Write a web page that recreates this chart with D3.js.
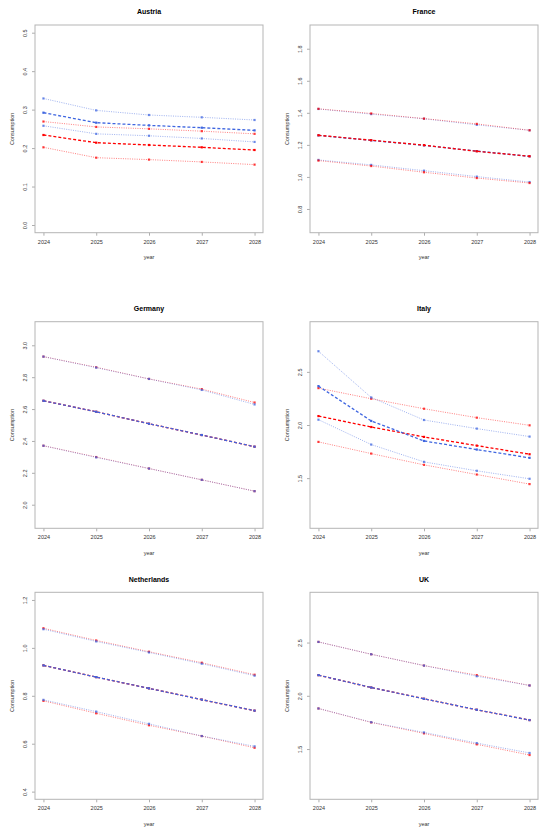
<!DOCTYPE html>
<html>
<head>
<meta charset="utf-8">
<script src="https://cdn.jsdelivr.net/npm/d3@7"></script>
<style>
  html, body { margin: 0; padding: 0; background: #fff; }
  svg { display: block; font-family: "Liberation Sans", Arial, Helvetica, sans-serif; }
</style>
</head>
<body>
<svg id="chart" width="550" height="835"></svg>
<script>
// ---------------- data ----------------
const years = [2024, 2025, 2026, 2027, 2028];
const countries = ["Austria", "France", "Germany", "Italy", "Netherlands", "UK"];

// y-axis limits and tick labels per country
const yLimits = [[0, 0.5], [0.7, 1.9], [1.9, 3.1], [1.1, 2.9], [0.4, 1.2], [1.1, 2.9]];
const yTickValues = [
  [0.0, 0.1, 0.2, 0.3, 0.4, 0.5],
  [0.8, 1.0, 1.2, 1.4, 1.6, 1.8],
  [2.0, 2.2, 2.4, 2.6, 2.8, 3.0],
  [1.5, 2.0, 2.5],
  [0.4, 0.6, 0.8, 1.0, 1.2],
  [1.5, 2.0, 2.5]
];

// red series: central (dashed) and bounds (dotted), one row per country
const redMid = [
  [0.234, 0.214, 0.208, 0.202, 0.195],
  [1.260, 1.229, 1.198, 1.160, 1.129],
  [2.652, 2.583, 2.508, 2.437, 2.364],
  [2.084, 1.981, 1.888, 1.806, 1.725],
  [0.927, 0.878, 0.831, 0.784, 0.738],
  [2.194, 2.078, 1.972, 1.869, 1.772]
];
const redLow = [
  [0.202, 0.175, 0.170, 0.164, 0.157],
  [1.102, 1.068, 1.029, 0.993, 0.962],
  [2.370, 2.299, 2.227, 2.156, 2.085],
  [1.841, 1.731, 1.625, 1.534, 1.444],
  [0.779, 0.727, 0.677, 0.632, 0.583],
  [1.881, 1.750, 1.647, 1.544, 1.444]
];
const redHigh = [
  [0.269, 0.255, 0.250, 0.244, 0.237],
  [1.425, 1.396, 1.364, 1.331, 1.291],
  [2.929, 2.862, 2.789, 2.725, 2.641],
  [2.347, 2.247, 2.153, 2.069, 1.997],
  [1.082, 1.031, 0.984, 0.938, 0.888],
  [2.506, 2.390, 2.284, 2.194, 2.097]
];

// blue series
const blueMid = [
  [0.292, 0.266, 0.259, 0.253, 0.246],
  [1.259, 1.228, 1.197, 1.161, 1.128],
  [2.652, 2.583, 2.508, 2.437, 2.364],
  [2.366, 2.038, 1.850, 1.769, 1.691],
  [0.927, 0.878, 0.831, 0.784, 0.738],
  [2.194, 2.078, 1.972, 1.869, 1.772]
];
const blueLow = [
  [0.258, 0.237, 0.232, 0.225, 0.216],
  [1.106, 1.075, 1.039, 1.002, 0.968],
  [2.370, 2.297, 2.227, 2.156, 2.085],
  [2.050, 1.816, 1.653, 1.569, 1.494],
  [0.783, 0.734, 0.683, 0.632, 0.589],
  [1.881, 1.752, 1.656, 1.556, 1.463]
];
const blueHigh = [
  [0.329, 0.298, 0.286, 0.280, 0.273],
  [1.424, 1.392, 1.363, 1.325, 1.291],
  [2.929, 2.860, 2.789, 2.720, 2.629],
  [2.694, 2.259, 2.047, 1.966, 1.891],
  [1.078, 1.027, 0.981, 0.934, 0.884],
  [2.506, 2.390, 2.284, 2.184, 2.097]
];

// which colour group is drawn last (on top) in each panel
const redOnTop = [true, true, false, false, false, false];

// ---------------- layout ----------------
const colLeft = [35, 310];
const plotW = 228;
const rowTop = [25, 321.7, 592.3];
const rowBottom = [232.7, 528.3, 799.3];

const RED = "#ff0000";
const BLUE = "#3f66e0";

const svg = d3.select("#chart");
const fmt = d3.format(".1f");

countries.forEach((name, i) => {
  const col = i % 2, row = Math.floor(i / 2);
  const x0 = colLeft[col], x1 = x0 + plotW;
  const y0 = rowTop[row], y1 = rowBottom[row];

  // R-style 4% axis extension
  const xr = years[years.length - 1] - years[0];
  const x = d3.scaleLinear()
    .domain([years[0] - 0.04 * xr, years[years.length - 1] + 0.04 * xr])
    .range([x0, x1]);
  const [ya, yb] = yLimits[i];
  const yrng = yb - ya;
  const y = d3.scaleLinear()
    .domain([ya - 0.04 * yrng, yb + 0.04 * yrng])
    .range([y1, y0]);

  const g = svg.append("g");

  // title
  g.append("text")
    .attr("x", (x0 + x1) / 2).attr("y", y0 - 13)
    .attr("dy", "0.35em")
    .attr("text-anchor", "middle")
    .attr("font-size", 7).attr("font-weight", "bold").attr("fill", "#000")
    .text(name);

  // x axis
  const xAxis = g.append("g")
    .attr("transform", `translate(0,${y1})`)
    .call(d3.axisBottom(x).tickValues(years).tickFormat(d3.format("d")).tickSize(3).tickPadding(4));
  xAxis.select(".domain").remove();
  xAxis.selectAll("line").attr("stroke", "#999").attr("stroke-width", 0.8);
  xAxis.selectAll("text").attr("font-size", 5.5).attr("fill", "#333")
    .attr("font-family", "Liberation Sans, Arial, sans-serif");

  // y axis
  const yAxis = g.append("g")
    .attr("transform", `translate(${x0},0)`)
    .call(d3.axisLeft(y).tickValues(yTickValues[i]).tickFormat(fmt).tickSize(3));
  yAxis.select(".domain").remove();
  yAxis.selectAll("line").attr("stroke", "#999").attr("stroke-width", 0.8);
  yAxis.selectAll("text").remove();
  yAxis.selectAll(".tick").append("text")
    .attr("transform", "translate(-10,0) rotate(-90)")
    .attr("dy", "0.35em")
    .attr("text-anchor", "middle")
    .attr("font-size", 5.5).attr("fill", "#333")
    .attr("font-family", "Liberation Sans, Arial, sans-serif")
    .text(d => fmt(d));

  // axis titles
  g.append("text")
    .attr("x", (x0 + x1) / 2).attr("y", y1 + 24.5)
    .attr("dy", "0.35em")
    .attr("text-anchor", "middle")
    .attr("font-size", 5.5).attr("fill", "#333")
    .text("year");
  g.append("text")
    .attr("transform", `translate(${x0 - 23},${(y0 + y1) / 2}) rotate(-90)`)
    .attr("dy", "0.35em")
    .attr("text-anchor", "middle")
    .attr("font-size", 5.5).attr("fill", "#333")
    .text("Consumption");

  // box
  g.append("rect")
    .attr("x", x0).attr("y", y0)
    .attr("width", x1 - x0).attr("height", y1 - y0)
    .attr("fill", "none").attr("stroke", "#b5b5b5").attr("stroke-width", 1);

  const line = d3.line().x((d, k) => x(years[k])).y(d => y(d));

  function drawGroup(mid, low, high, color) {
    [low, high].forEach(vals => {
      g.append("path").datum(vals)
        .attr("d", line)
        .attr("fill", "none")
        .attr("stroke", color).attr("stroke-opacity", 0.5)
        .attr("stroke-width", 1)
        .attr("stroke-dasharray", "1,1.3");
      g.selectAll(null).data(vals).enter().append("rect")
        .attr("x", (d, k) => x(years[k]) - 1.1)
        .attr("y", d => y(d) - 1.1)
        .attr("width", 2.2).attr("height", 2.2)
        .attr("fill", color).attr("fill-opacity", 0.75);
    });
    g.append("path").datum(mid)
      .attr("d", line)
      .attr("fill", "none")
      .attr("stroke", color)
      .attr("stroke-width", 1.3)
      .attr("stroke-dasharray", "3,2");
    g.selectAll(null).data(mid).enter().append("rect")
      .attr("x", (d, k) => x(years[k]) - 1.1)
      .attr("y", d => y(d) - 1.1)
      .attr("width", 2.2).attr("height", 2.2)
      .attr("fill", color);
  }

  if (redOnTop[i]) {
    drawGroup(blueMid[i], blueLow[i], blueHigh[i], BLUE);
    drawGroup(redMid[i], redLow[i], redHigh[i], RED);
  } else {
    drawGroup(redMid[i], redLow[i], redHigh[i], RED);
    drawGroup(blueMid[i], blueLow[i], blueHigh[i], BLUE);
  }
});
</script>
</body>
</html>
